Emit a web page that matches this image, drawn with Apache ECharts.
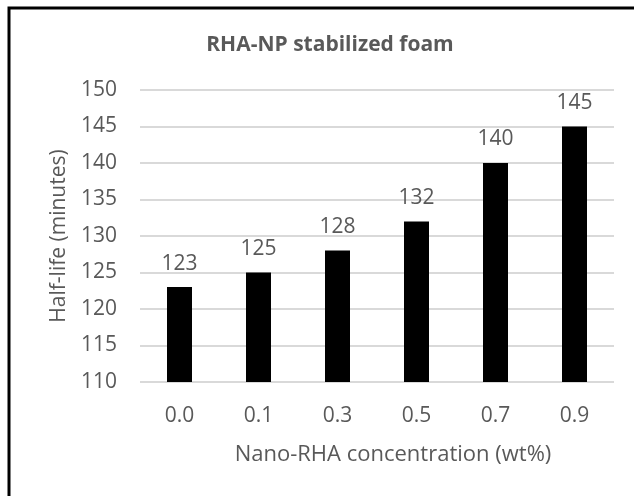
<!DOCTYPE html>
<html>
<head>
<meta charset="utf-8">
<script src="https://cdn.jsdelivr.net/npm/echarts@6/dist/echarts.min.js"></script>
<style>
html,body{margin:0;padding:0;background:#fff;}
#chart{width:634px;height:496px;}
</style>
</head>
<body>
<div id="chart"></div>
<script>
const categories = ['0.0', '0.1', '0.3', '0.5', '0.7', '0.9'];
const halfLife = [123, 125, 128, 132, 140, 145];
const chartTitle = 'RHA-NP stabilized foam';
const xName = 'Nano-RHA concentration (wt%)';
const yName = 'Half-life (minutes)';
const yMin = 110, yMax = 150, yStep = 5;

const FONT = 'Open Sans';
const TXT = '#595959';
const chart = echarts.init(document.getElementById('chart'), null, {renderer: 'canvas'});
chart.setOption({
  animation: false,
  backgroundColor: '#fff',
  title: {
    text: chartTitle,
    left: 325, top: 30,
    textAlign: 'center',
    textStyle: {fontFamily: FONT, fontWeight: 'bold', fontSize: 21, color: TXT}
  },
  graphic: [{
    type: 'rect',
    shape: {x: 9, y: 8, width: 800, height: 700},
    style: {fill: 'none', stroke: '#000', lineWidth: 3},
    silent: true
  }, {
    type: 'text',
    x: 59, y: 236,
    rotation: Math.PI / 2,
    style: {
      text: yName,
      fontFamily: FONT, fontSize: 21, fill: TXT,
      align: 'center', verticalAlign: 'middle'
    },
    silent: true
  }],
  grid: {left: 140, right: 20, top: 90, bottom: 114, containLabel: false},
  xAxis: {
    type: 'category',
    data: categories,
    axisLine: {show: false},
    axisTick: {show: false},
    axisLabel: {fontFamily: FONT, fontSize: 21, color: TXT, margin: 24},
    name: xName,
    nameLocation: 'middle',
    nameGap: 62,
    nameTextStyle: {fontFamily: FONT, fontSize: 22, color: TXT, padding: [0, 0, 0, 32]}
  },
  yAxis: {
    type: 'value',
    min: yMin, max: yMax, interval: yStep,
    axisLine: {show: false},
    axisTick: {show: false},
    splitLine: {lineStyle: {color: '#d9d9d9', width: 2}},
    axisLabel: {fontFamily: FONT, fontSize: 21, color: TXT, margin: 23}
  },
  series: [{
    type: 'bar',
    data: halfLife,
    barWidth: 25,
    itemStyle: {color: '#000'},
    label: {show: true, position: 'top', distance: 13, fontFamily: FONT, fontSize: 21, color: TXT}
  }]
});
</script>
</body>
</html>
